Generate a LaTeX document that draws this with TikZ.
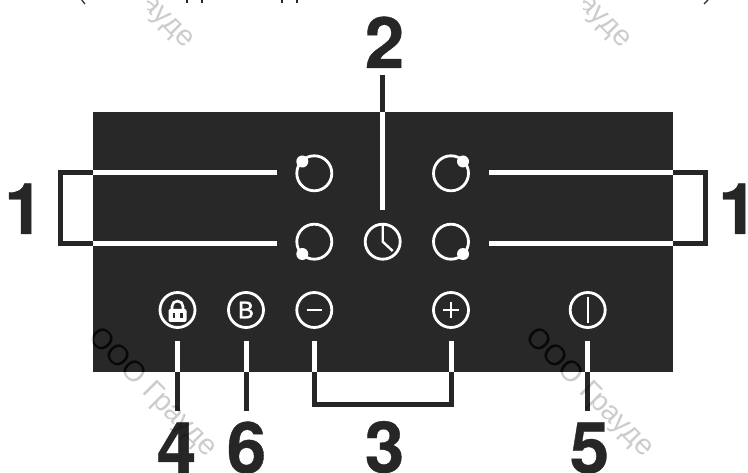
\documentclass[tikz,border=0pt]{standalone}
\usepackage{fontspec}
\setmainfont{Liberation Sans}
\newfontfamily\numfont[BoldFeatures={FakeBold=0.5}]{TeX Gyre Heros}
\newfontfamily\bkeyfont[FakeBold=1.6]{Liberation Sans}
\definecolor{panel}{HTML}{282828}
\definecolor{ink}{HTML}{262626}
\tikzset{
  px/.style={x=1pt,y=-1pt},
  keyring/.style={circle,draw=white,line width=2.8pt,minimum size=35pt,inner sep=0pt,fill=none},
  dotmark/.style={circle,fill=white,minimum size=12pt,inner sep=0pt},
  numlabel/.style={text=ink,font=\numfont\fontsize{71}{71}\selectfont\bfseries,inner sep=0pt,anchor=base},
  inleader/.style={draw=white,line width=5pt},
  outleader/.style={draw=ink,line width=5pt,miter limit=10},
  glyph/.style={draw=white,line width=2.7pt},
  wmark/.style={font=\fontsize{29}{29}\selectfont,rotate=-45,inner sep=0pt,anchor=south west}
}
\begin{document}
\begin{tikzpicture}[px]
\useasboundingbox (0,0) rectangle (748,473);
\clip (0,0) rectangle (748,473);
\fill[white] (0,0) rectangle (748,473);
\fill[panel] (93,112) rectangle (673,372);

% clipped remains of the caption line
\coordinate (pa) at (81.7,0); \coordinate (pb) at (85,4);
\coordinate (pc) at (708,0); \coordinate (pd) at (704,4);
\draw[ink,line width=1.2pt] (pa) -- (pb) (pc) -- (pd);
\foreach \sx in {186.7,201.7,282,297}{\draw[ink,line width=1.6pt] (\sx,0) -- (\sx,3);}

% keys
\node[keyring] (tl) at (314.3,173.3) {};
\node[keyring] (tr) at (451,173.3) {};
\node[keyring] (bl) at (314.3,241.7) {};
\node[keyring] (br) at (451,241.7) {};
\node[keyring] (clock) at (382.7,241.7) {};
\node[keyring] (lock) at (177.5,310) {};
\node[keyring] (bkey) at (246,310) {};
\node[keyring] (minus) at (314.3,310) {};
\node[keyring] (plus) at (451,310) {};
\node[keyring] (power) at (587.7,310) {};
\node[dotmark] at (302.3,161.5) {};
\node[dotmark] at (463,161.5) {};
\node[dotmark] at (302.3,254) {};
\node[dotmark] at (463,254) {};

% glyphs
\draw[glyph,line join=round,line width=2.4pt] (382.7,225) -- (clock.center) -- (392.7,251);
\fill[white,rounded corners=2pt] (168.5,309) rectangle (186.5,322);
\draw[white,line width=2.6pt] (172,310) -- (172,306.5) arc[start angle=180,end angle=360,radius=5.5] -- (183,310);
\fill[panel] (172.5,313) rectangle (175.3,318);
\fill[panel] (179.7,313) rectangle (182.5,318);
\node[text=white,font=\bkeyfont\fontsize{24}{24}\selectfont,inner sep=0pt] at (246,310) {B};
\draw[glyph] (306.5,310) -- (322,310);
\draw[glyph] (443,310) -- (459,310) (451,302) -- (451,318);
\draw[glyph,line width=2.3pt] (587.7,297) -- (587.7,323);

% numbers
\node[numlabel] (n1l) at (24,234) {1};
\node[numlabel] (n1r) at (738,234) {1};
\node[numlabel] (n2) at (384.5,68) {2};
\node[numlabel] (n3) at (384.5,472.5) {3};
\node[numlabel] (n4) at (176.5,473) {4};
\node[numlabel] (n6) at (246.5,473) {6};
\node[numlabel] (n5) at (589.5,473) {5};

% leaders: left pair
\coordinate (la) at (277,173); \coordinate (lb) at (93,173);
\coordinate (lc) at (277,243.5); \coordinate (ld) at (93,243.5);
\coordinate (le) at (60.5,173); \coordinate (lf) at (60.5,243.5);
\draw[inleader] (la) -- (lb) (lc) -- (ld);
\draw[outleader] (lb) -- (le) -- (lf) -- (ld);
% right pair
\coordinate (ra) at (489,173); \coordinate (rb) at (673,173);
\coordinate (rc) at (489,243.5); \coordinate (rd) at (673,243.5);
\coordinate (re) at (705.5,173); \coordinate (rf) at (705.5,243.5);
\draw[inleader] (ra) -- (rb) (rc) -- (rd);
\draw[outleader] (rb) -- (re) -- (rf) -- (rd);
% number 2
\coordinate (ca) at (382.7,210); \coordinate (cb) at (382.7,112); \coordinate (cc) at (382.7,75);
\draw[inleader] (ca) -- (cb);
\draw[outleader] (cb) -- (cc);
% bottom singles
\foreach \nm/\lx in {lck/177,bky/246.3,pwr/587.7}{
  \coordinate (\nm a) at (\lx,341); \coordinate (\nm b) at (\lx,372); \coordinate (\nm c) at (\lx,411);
  \draw[inleader] (\nm a) -- (\nm b);
  \draw[outleader] (\nm b) -- (\nm c);
}
% number 3 bracket
\coordinate (ma) at (314.3,341); \coordinate (mb) at (314.3,372); \coordinate (mc) at (314.3,404.5);
\coordinate (pa2) at (451,341); \coordinate (pb2) at (451,372); \coordinate (pc2) at (451,404.5);
\draw[inleader] (ma) -- (mb) (pa2) -- (pb2);
\draw[outleader] (mb) -- (mc) -- (pc2) -- (pb2);

% watermarks
\foreach \wx/\wy in {83/343,520/343}{
  \node[wmark,text=black,opacity=.2] at (\wx,\wy) {ООО Грауде};
}
\begin{scope}
\clip (147,0) rectangle (300,60) (583,0) rectangle (748,60);
\foreach \wx/\wy in {61/-66,498/-66}{
  \node[wmark,text=black,opacity=.2] at (\wx,\wy) {ООО Грауде};
}
\end{scope}
\begin{scope}
\clip (93,112) rectangle (673,372);
\foreach \wx/\wy in {83/343,520/343}{
  \node[wmark,text=black,opacity=.75] at (\wx,\wy) {ООО Грауде};
}
\end{scope}
\end{tikzpicture}
\end{document}
